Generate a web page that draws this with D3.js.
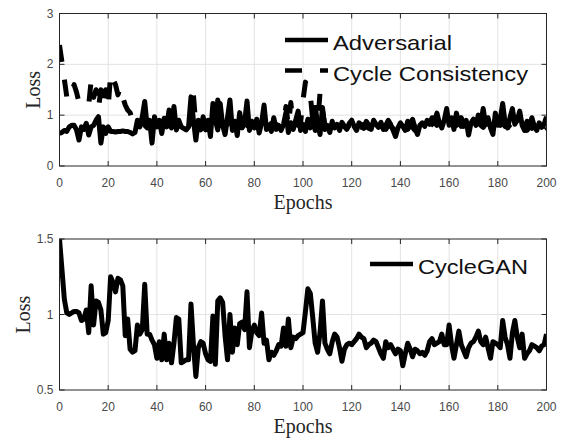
<!DOCTYPE html>
<html>
<head>
<meta charset="utf-8">
<script src="https://cdn.jsdelivr.net/npm/d3@7"></script>
<style>
  body { margin: 0; background: #fff; }
  .tick-label { font-family: "Liberation Sans", Arial, sans-serif; font-size: 12px; fill: #4a4a4a; }
  .axis-title { font-family: "Liberation Serif", "Times New Roman", serif; font-size: 20px; fill: #262626; }
  .legend-text { font-family: "Liberation Sans", Arial, sans-serif; font-size: 21px; fill: #111; }
</style>
</head>
<body>
<div id="chart"></div>
<script>
// epochs 0..200
const epochs = d3.range(0, 201);
const xTicks = [0, 20, 40, 60, 80, 100, 120, 140, 160, 180, 200];

const topYTicks = [0, 1, 2, 3];
const bottomYTicks = [0.5, 1, 1.5];

const adversarial = [
  0.64,0.66,0.70,0.68,0.77,0.80,0.80,0.71,0.51,0.77,0.72,0.84,0.61,0.77,0.80,0.90,0.97,0.45,0.77,0.64,
  0.77,0.68,0.68,0.67,0.68,0.68,0.69,0.68,0.68,0.66,0.63,
  0.66,0.90,0.77,0.97,1.27,0.77,0.90,0.45,0.97,0.77,0.90,0.64,0.94,0.77,1.10,0.84,1.17,0.71,0.90,0.77,
  0.74,0.71,0.77,1.36,0.90,0.51,0.90,0.71,0.97,0.71,0.90,0.58,1.23,0.90,0.71,1.23,
  0.80,0.62,0.95,1.30,0.70,0.88,0.60,1.05,0.75,0.85,1.28,0.70,0.88,0.75,0.92,0.65,0.85,1.20,0.72,0.80,
  0.68,0.95,0.72,0.80,0.70,0.82,1.05,0.66,0.85,0.72,0.90,1.08,0.70,0.82,0.68,0.92,0.75,1.00,0.70,0.85,
  0.62,1.15,0.72,0.80,0.66,0.88,0.75,0.82,0.70,0.86,0.78,0.72,0.84,0.90,0.78,0.70,0.85,0.80,0.74,0.88,
  0.80,0.72,0.90,0.82,0.76,0.86,0.72,0.80,0.90,
  0.82,0.70,0.58,0.75,0.85,0.78,0.70,0.88,0.80,0.92,0.75,0.62,0.80,0.85,0.78,0.90,0.82,0.95,0.88,1.04,
  0.85,0.75,0.90,1.13,0.80,0.95,0.72,1.04,0.85,0.95,0.78,0.90,0.61,0.85,0.92,0.80,1.00,0.85,1.13,0.82,
  0.95,0.75,0.62,1.04,0.80,0.92,1.23,0.85,0.75,0.95,1.13,0.82,0.90,1.08,0.80,0.70,0.88,0.80,0.95,0.78,
  0.70,0.85,0.76,0.82,0.97
];

const cycleConsistency = [
  2.38,2.05,1.70,1.36,1.30,1.45,1.60,1.45,1.25,1.22,1.20,1.18,1.20,1.68,1.35,1.50,1.14,1.50,1.20,1.50,
  1.15,1.82,1.70,1.60,1.40,1.55,1.35,1.20,1.10,1.05,0.90,
  0.85,0.78,0.82,0.88,0.80,0.75,0.85,0.80,0.78,0.82,0.76,0.80,0.86,0.78,0.82,0.75,0.80,0.84,0.78,0.80,
  0.76,0.82,0.78,0.85,1.40,0.80,0.76,0.82,0.78,0.84,0.80,0.76,0.82,0.78,1.30,0.80,0.84,0.78,0.82,0.86,
  0.80,0.76,0.82,0.80,0.78,0.84,0.80,0.76,0.82,0.78,0.84,0.80,0.76,0.82,0.78,0.80,0.84,0.78,0.82,0.76,
  0.80,0.84,1.17,0.80,1.25,0.78,0.82,0.80,0.85,1.30,1.65,1.55,1.40,0.90,1.20,0.80,1.45,1.10,0.80,0.76,
  0.82,0.78,0.84,0.80,0.76,0.82,0.78,0.74,0.80,0.84,
  0.78,0.72,0.80,0.76,0.82,0.78,0.74,0.80,0.76,0.70,
  0.78,0.82,0.76,0.72,0.80,0.78,0.74,0.68,0.76,0.80,
  0.74,0.78,0.72,0.80,0.76,0.70,0.78,0.82,0.76,0.80,
  0.84,0.78,0.82,0.86,0.80,0.84,0.78,0.82,0.88,0.80,
  0.76,0.84,0.80,0.86,0.78,0.82,0.76,0.80,0.84,0.78,
  0.82,0.86,0.80,0.76,0.84,0.80,0.74,0.82,0.78,0.84,
  0.80,0.86,0.78,0.82,0.76,0.72,0.80,0.84,0.78,0.82,
  0.76,0.70,0.78,0.74,0.80,0.76,0.72,0.78,0.70,0.74
];

const cycleGAN = [
  1.50,1.30,1.10,1.01,1.00,1.01,1.02,1.02,1.01,0.96,0.97,1.03,0.88,1.19,0.93,1.09,1.08,1.03,0.87,0.88,
  0.96,1.25,1.21,1.15,1.24,1.23,1.19,0.86,0.97,0.77,0.75,0.76,0.93,0.87,0.90,1.20,0.87,0.87,0.83,0.80,
  0.71,0.82,0.70,0.87,0.70,0.81,0.68,0.81,0.98,0.97,0.68,0.69,0.70,0.70,1.07,0.80,0.59,0.78,0.82,0.81,
  0.74,0.70,0.69,0.99,0.67,1.09,1.11,1.08,0.86,0.70,1.00,0.75,0.91,0.80,0.94,0.95,0.90,1.15,0.78,0.89,
  0.93,0.88,0.86,1.01,0.81,0.83,0.70,0.75,0.73,0.76,0.80,0.79,0.91,0.79,0.97,0.78,0.85,0.84,0.86,0.87,
  0.88,1.02,1.17,1.14,0.98,0.81,0.75,0.88,1.09,0.81,0.77,0.74,0.82,0.87,0.85,0.78,0.69,0.77,0.80,0.81,
  0.80,0.82,0.84,0.87,0.85,0.84,0.78,0.80,0.81,0.83,0.82,0.78,0.74,0.71,0.82,0.78,0.80,0.77,0.74,0.77,
  0.76,0.66,0.74,0.81,0.77,0.72,0.77,0.76,0.74,0.75,0.73,0.76,0.82,0.84,0.80,0.81,0.82,0.87,0.80,0.80,
  0.93,0.80,0.71,0.80,0.89,0.80,0.76,0.72,0.78,0.81,0.82,0.85,0.89,0.82,0.80,0.85,0.78,0.71,0.82,0.81,
  0.80,0.78,0.96,0.85,0.80,0.71,0.88,0.96,0.85,0.78,0.87,0.71,0.74,0.76,0.80,0.79,0.78,0.76,0.79,0.80,
  0.87
];

const width = 576;
const height = 439;
const left = 59.5;
const right = 546.5;

const svg = d3.select('#chart').append('svg')
    .attr('width', width)
    .attr('height', height)
    .style('display', 'block');

svg.append('rect').attr('width', width).attr('height', height).attr('fill', '#fff');

const x = d3.scaleLinear().domain([0, 200]).range([left, right]);

function drawPanel(opts) {
  const y = d3.scaleLinear().domain(opts.yDomain).range([opts.bottom, opts.top]);
  const g = svg.append('g');

  const clipId = 'clip-' + opts.name;
  svg.append('clipPath').attr('id', clipId)
    .append('rect')
      .attr('x', left).attr('y', opts.top)
      .attr('width', right - left).attr('height', opts.bottom - opts.top);

  // grid
  g.selectAll('.gx').data(xTicks.slice(1, -1)).enter().append('line')
      .attr('x1', d => x(d)).attr('x2', d => x(d))
      .attr('y1', opts.top).attr('y2', opts.bottom)
      .attr('stroke', '#e3e3e3').attr('stroke-width', 1);
  g.selectAll('.gy').data(opts.yTicks.slice(1, -1)).enter().append('line')
      .attr('x1', left).attr('x2', right)
      .attr('y1', d => y(d)).attr('y2', d => y(d))
      .attr('stroke', '#e3e3e3').attr('stroke-width', 1);

  // series
  const line = d3.line().x((d, i) => x(epochs[i])).y(d => y(d));
  opts.series.forEach(s => {
    g.append('path')
        .datum(s.values)
        .attr('clip-path', `url(#${clipId})`)
        .attr('fill', 'none')
        .attr('stroke', '#000')
        .attr('stroke-width', 5)
        .attr('stroke-linejoin', 'round')
        .attr('stroke-dasharray', s.dash || null)
        .attr('d', line);
  });

  // box + inward ticks
  g.append('rect')
      .attr('x', left).attr('y', opts.top)
      .attr('width', right - left).attr('height', opts.bottom - opts.top)
      .attr('fill', 'none').attr('stroke', '#262626').attr('stroke-width', 1);
  const tl = 5;
  xTicks.forEach(t => {
    g.append('line').attr('x1', x(t)).attr('x2', x(t)).attr('y1', opts.bottom).attr('y2', opts.bottom - tl)
        .attr('stroke', '#262626');
    g.append('line').attr('x1', x(t)).attr('x2', x(t)).attr('y1', opts.top).attr('y2', opts.top + tl)
        .attr('stroke', '#262626');
  });
  opts.yTicks.forEach(t => {
    g.append('line').attr('x1', left).attr('x2', left + tl).attr('y1', y(t)).attr('y2', y(t))
        .attr('stroke', '#262626');
    g.append('line').attr('x1', right).attr('x2', right - tl).attr('y1', y(t)).attr('y2', y(t))
        .attr('stroke', '#262626');
  });

  // tick labels
  g.selectAll('.xl').data(xTicks).enter().append('text')
      .attr('class', 'tick-label')
      .attr('x', d => x(d))
      .attr('y', opts.bottom + 21)
      .attr('text-anchor', 'middle')
      .text(d => d);
  g.selectAll('.yl').data(opts.yTicks).enter().append('text')
      .attr('class', 'tick-label')
      .attr('x', left - 6)
      .attr('y', d => y(d) + 4)
      .attr('text-anchor', 'end')
      .text(d => d);

  // axis titles
  g.append('text')
      .attr('class', 'axis-title')
      .attr('x', (left + right) / 2)
      .attr('y', opts.bottom + 43)
      .attr('text-anchor', 'middle')
      .text('Epochs');
  g.append('text')
      .attr('class', 'axis-title')
      .attr('transform', `translate(${opts.lossX},${(opts.top + opts.bottom) / 2}) rotate(-90)`)
      .attr('text-anchor', 'middle')
      .attr('dy', '0.35em')
      .text('Loss');

  // legend
  opts.legend.forEach(l => {
    g.append('line')
        .attr('x1', l.x1).attr('x2', l.x2).attr('y1', l.y).attr('y2', l.y)
        .attr('stroke', '#000').attr('stroke-width', 4.5)
        .attr('stroke-dasharray', l.dash || null);
    g.append('text')
        .attr('class', 'legend-text')
        .attr('x', l.x2 + 5)
        .attr('y', l.y + 10)
        .attr('textLength', l.len)
        .attr('lengthAdjust', 'spacingAndGlyphs')
        .text(l.label);
  });
}

drawPanel({
  name: 'top',
  top: 13.5, bottom: 166,
  yDomain: [0, 3],
  yTicks: topYTicks,
  lossX: 33,
  series: [
    { values: cycleConsistency, dash: '17,18' },
    { values: adversarial }
  ],
  legend: [
    { label: 'Adversarial', x1: 285, x2: 328, y: 40, len: 119 },
    { label: 'Cycle Consistency', x1: 285, x2: 328, y: 70.5, dash: '17,18', len: 195 }
  ]
});

drawPanel({
  name: 'bottom',
  top: 239, bottom: 390,
  yDomain: [0.5, 1.5],
  yTicks: bottomYTicks,
  lossX: 23,
  series: [
    { values: cycleGAN }
  ],
  legend: [
    { label: 'CycleGAN', x1: 370, x2: 413, y: 264, len: 110 }
  ]
});
</script>
</body>
</html>
